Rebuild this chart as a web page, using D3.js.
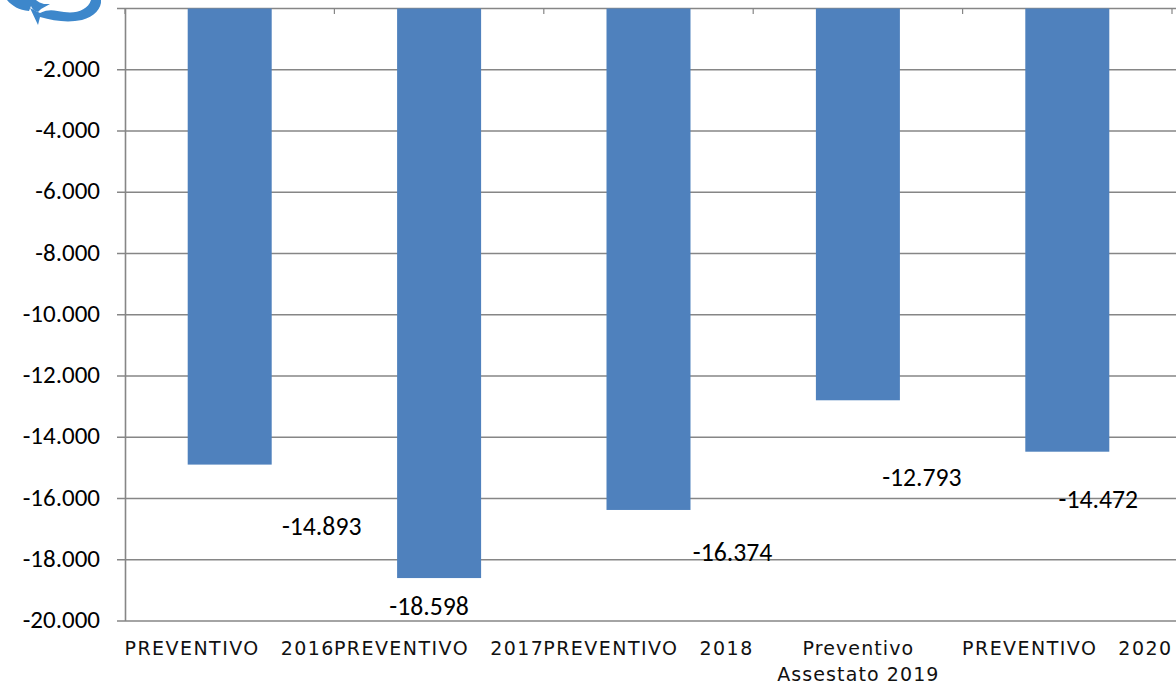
<!DOCTYPE html>
<html><head><meta charset="utf-8">
<script src="https://cdn.jsdelivr.net/npm/d3@7"></script>
<style>html,body{margin:0;padding:0;background:#fff;overflow:hidden}svg{display:block}</style>
</head><body><svg id="c" width="1176" height="688"></svg>
<script>
const categories=["PREVENTIVO  2016","PREVENTIVO  2017","PREVENTIVO  2018","Preventivo Assestato 2019","PREVENTIVO  2020"];
const values=[-14893,-18598,-16374,-12793,-14472];
const valueLabels=["-14.893","-18.598","-16.374","-12.793","-14.472"];
const labelOffsets=[[92,70],[-10,37],[84,51],[64,86],[31,56]];
const yTicks=[0,-2000,-4000,-6000,-8000,-10000,-12000,-14000,-16000,-18000,-20000];
const tickLabels=["","-2.000","-4.000","-6.000","-8.000","-10.000","-12.000","-14.000","-16.000","-18.000","-20.000"];

const svg=d3.select("#c");
const grey="#868686";
const y=d3.scaleLinear().domain([0,-20000]).range([8.5,621]);
const x=d3.scaleBand().domain(categories).range([125.5,1172.5]).paddingInner(0).paddingOuter(0);
const numFont="Carlito, 'Noto Sans', 'Open Sans', sans-serif";
const catFont="'DejaVu Sans', Verdana, sans-serif";

// logo (partially clipped swirl)
const logo=svg.append("g").attr("fill","#3d87cb");
logo.append("path").attr("d","M7 0 L36 0 C38 2 41 3 44 4 L50 4 L41 9 L38 12 C34 11 32 9 31 6 L29 11 C19 10 12 6 7 0 Z");
logo.append("path").attr("d","M40 13 C50 8 56 11 64 12 C76 14 88 10 91 0 L101 0 C102 8 94 17 82 20 C68 23 54 21 40 17 L38 25 L30 8 Z");

// gridlines
svg.append("g").selectAll("line").data(yTicks).join("line")
 .attr("x1",117).attr("x2",1176)
 .attr("y1",d=>y(d)).attr("y2",d=>y(d))
 .attr("stroke",grey).attr("stroke-width",1.6);

// axis line
svg.append("line").attr("x1",125.5).attr("x2",125.5).attr("y1",y(0)).attr("y2",y(-20000)).attr("stroke",grey).attr("stroke-width",1.6);

// top ticks
svg.append("g").selectAll("line").data(d3.range(categories.length+1)).join("line")
 .attr("x1",i=>125+i*x.bandwidth()).attr("x2",i=>125+i*x.bandwidth())
 .attr("y1",8).attr("y2",14).attr("stroke",grey).attr("stroke-width",1.2);

// bars
const barW=84;
svg.append("g").selectAll("rect").data(values).join("rect")
 .attr("x",(d,i)=>x(categories[i])+x.bandwidth()/2-barW/2-0.5)
 .attr("width",barW).attr("y",y(0)).attr("height",d=>y(d)-y(0))
 .attr("fill","#4f81bd");

// y tick labels
svg.append("g").selectAll("text").data(yTicks).join("text")
 .attr("x",100).attr("y",d=>y(d)+7).attr("text-anchor","end")
 .attr("font-family",numFont).attr("font-size",25).attr("fill","#000")
 .text((d,i)=>tickLabels[i]);

// value labels
svg.append("g").selectAll("text").data(values).join("text")
 .attr("x",(d,i)=>x(categories[i])+x.bandwidth()/2+labelOffsets[i][0]-0.5)
 .attr("y",(d,i)=>y(d)+labelOffsets[i][1])
 .attr("text-anchor","middle")
 .attr("font-family",numFont).attr("font-size",25.7).attr("fill","#000")
 .text((d,i)=>valueLabels[i]);

// category labels
const cg=svg.append("g").attr("font-family",catFont).attr("font-size",19).attr("letter-spacing",1.45).attr("fill","#111").attr("text-anchor","middle");
categories.forEach((c,i)=>{
  const cx=x(c)+x.bandwidth()/2;
  if(c.startsWith("Preventivo Assestato")){
    cg.append("text").attr("x",cx).attr("y",655).attr("letter-spacing",1.1).text("Preventivo");
    cg.append("text").attr("x",cx).attr("y",681).attr("letter-spacing",1.1).text("Assestato 2019");
  } else {
    const p=c.split("  ");
    cg.append("text").attr("x",x(c)-1).attr("y",655).attr("text-anchor","start").text(p[0]);
    cg.append("text").attr("x",x(c)+x.bandwidth()).attr("y",655).attr("text-anchor","end").text(p[1]);
  }
});
</script></body></html>
